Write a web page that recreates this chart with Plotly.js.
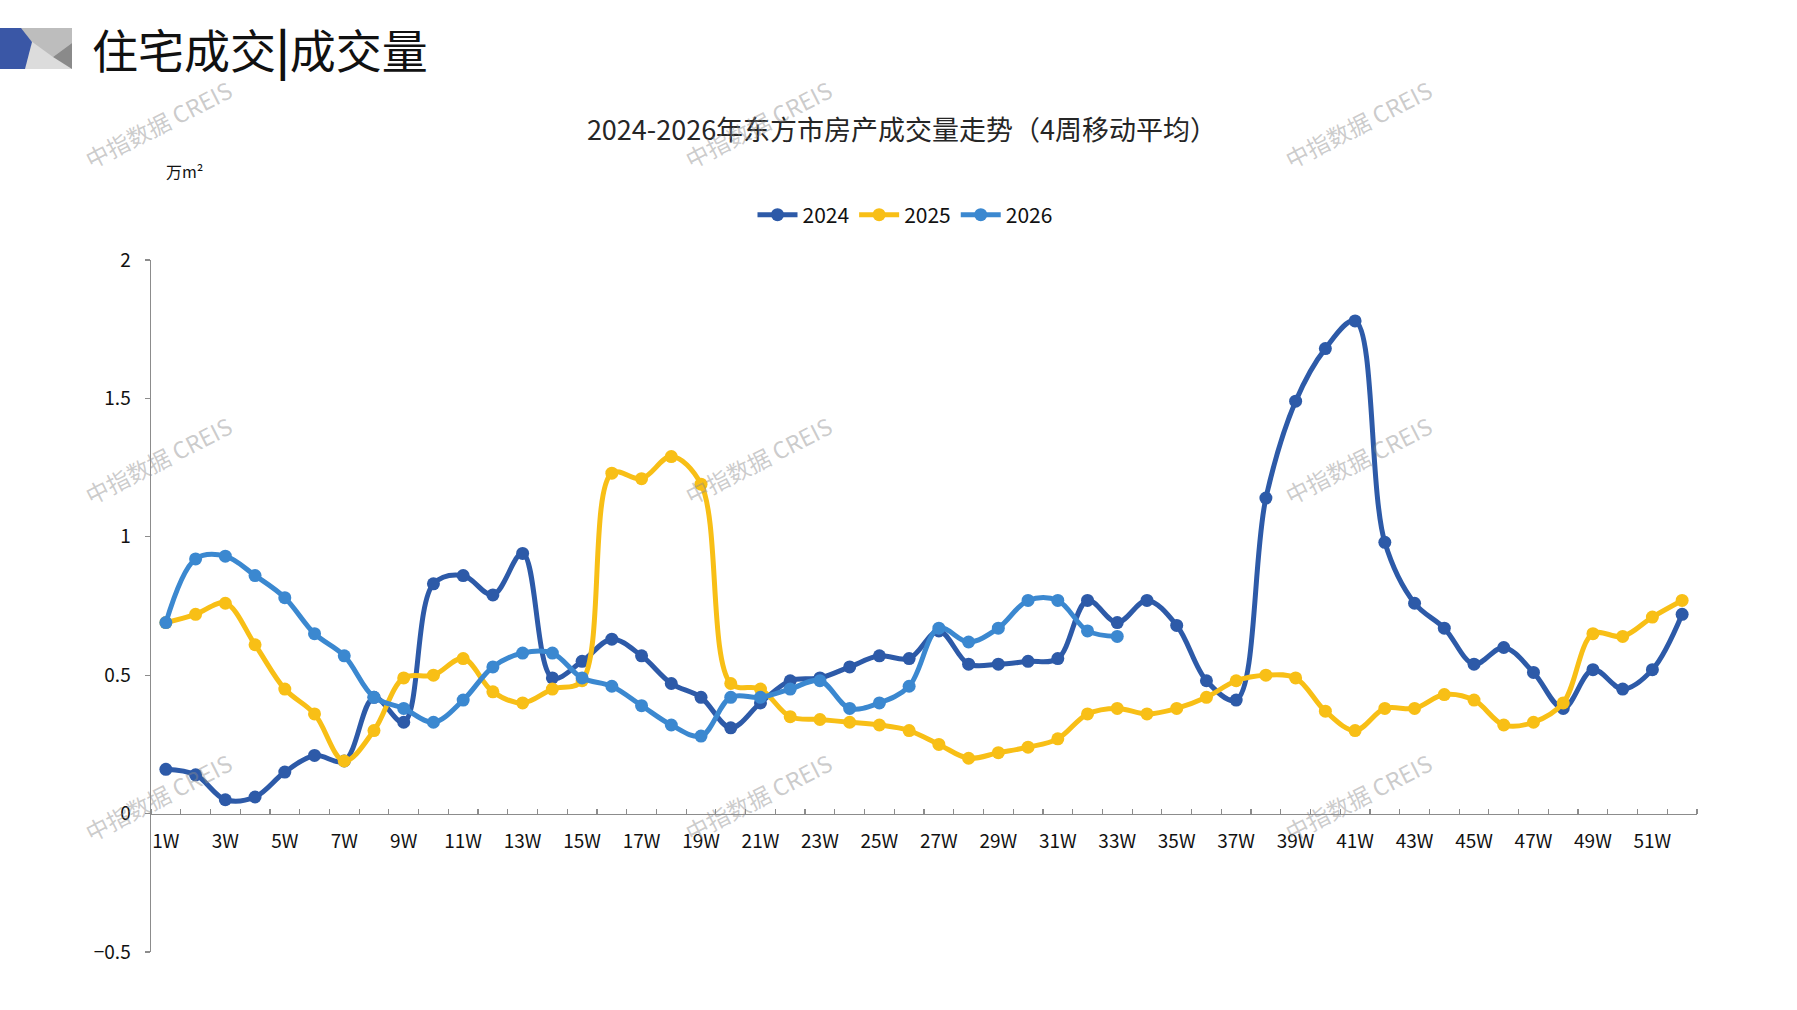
<!DOCTYPE html>
<html>
<head>
<meta charset="utf-8">
<script src="https://cdn.plot.ly/plotly-3.0.1.min.js"></script>
<style>
  html, body { margin: 0; padding: 0; background: #fff; }
  #chart { width: 1797px; height: 1010px; }
</style>
</head>
<body>
<div id="chart"></div>
<script>
// week categories and 4-week moving average, 万m²
var weekLabels = ['1W','2W','3W','4W','5W','6W','7W','8W','9W','10W','11W','12W','13W',
  '14W','15W','16W','17W','18W','19W','20W','21W','22W','23W','24W','25W','26W',
  '27W','28W','29W','30W','31W','32W','33W','34W','35W','36W','37W','38W','39W',
  '40W','41W','42W','43W','44W','45W','46W','47W','48W','49W','50W','51W','52W'];

var v2024 = [0.16,0.14,0.05,0.06,0.15,0.21,0.19,0.42,0.33,0.83,0.86,0.79,0.94,
  0.49,0.55,0.63,0.57,0.47,0.42,0.31,0.40,0.48,0.49,0.53,0.57,0.56,
  0.66,0.54,0.54,0.55,0.56,0.77,0.69,0.77,0.68,0.48,0.41,1.14,1.49,
  1.68,1.78,0.98,0.76,0.67,0.54,0.60,0.51,0.38,0.52,0.45,0.52,0.72];

var v2025 = [0.69,0.72,0.76,0.61,0.45,0.36,0.19,0.30,0.49,0.50,0.56,0.44,0.40,
  0.45,0.48,1.23,1.21,1.29,1.19,0.47,0.45,0.35,0.34,0.33,0.32,0.30,
  0.25,0.20,0.22,0.24,0.27,0.36,0.38,0.36,0.38,0.42,0.48,0.50,0.49,
  0.37,0.30,0.38,0.38,0.43,0.41,0.32,0.33,0.40,0.65,0.64,0.71,0.77];

var v2026 = [0.69,0.92,0.93,0.86,0.78,0.65,0.57,0.42,0.38,0.33,0.41,0.53,0.58,
  0.58,0.49,0.46,0.39,0.32,0.28,0.42,0.42,0.45,0.48,0.38,0.40,0.46,
  0.67,0.62,0.67,0.77,0.77,0.66,0.64];

var seriesNames = ['2024', '2025', '2026'];
var seriesColors = ['#2d5aa8', '#f8bf16', '#3b88d0'];

// plot area in page pixels
var W = 1797, H = 1010;
var L = 151, R = 1697, T = 260, B = 952;
function px(x) { return (x - L) / (R - L); }
function py(y) { return 1 - (y - T) / (B - T); }
function pathOf(pts) {
  return pts.map(function (p, i) {
    return (i ? 'L' : 'M') + px(p[0]).toFixed(5) + ',' + py(p[1]).toFixed(5);
  }).join(' ') + ' Z';
}

var weekNums = weekLabels.map(function (_, i) { return i + 1; });
var tickNums = weekNums.filter(function (n) { return n % 2 === 1; });
var tickText = tickNums.map(function (n) { return weekLabels[n - 1]; });

var data = [v2024, v2025, v2026].map(function (vals, k) {
  return {
    type: 'scatter',
    mode: 'lines+markers',
    name: seriesNames[k],
    x: weekNums.slice(0, vals.length),
    y: vals,
    line: { color: seriesColors[k], width: 5, shape: 'spline', smoothing: 1 },
    marker: { color: seriesColors[k], size: 13 }
  };
});

var annotations = [
  { text: '住宅成交<b>|</b>成交量', x: px(90), y: py(48), xanchor: 'left', yanchor: 'middle',
    font: { size: 46, color: '#111' } },
  { text: '万m²', x: px(164), y: py(171), xanchor: 'left', yanchor: 'middle',
    font: { size: 16, color: '#111' } }
];
[158, 758, 1358].forEach(function (cx) {
  [124, 460, 797].forEach(function (cy) {
    annotations.push({
      text: '中指数据 CREIS', x: px(cx), y: py(cy), xanchor: 'center', yanchor: 'middle',
      textangle: -27, font: { size: 23, color: 'rgba(140,140,140,0.45)', family: 'Noto Sans CJK SC' }
    });
  });
});
annotations.forEach(function (a) { a.xref = 'paper'; a.yref = 'paper'; a.showarrow = false; });

var shapes = [
  { path: pathOf([[0,28],[72,28],[72,69],[0,69]]), fillcolor: '#dcdcdc' },
  { path: pathOf([[20,28],[72,28],[72,43],[53,57],[31,41]]), fillcolor: '#bdbdbd' },
  { path: pathOf([[72,43],[72,69],[53,57]]), fillcolor: '#8a8a8a' },
  { path: pathOf([[0,28],[21,28],[32,42],[25,69],[0,69]]), fillcolor: '#3a57a6' }
];
shapes.forEach(function (s) { s.type = 'path'; s.xref = 'paper'; s.yref = 'paper'; s.line = { width: 0 }; });

var layout = {
  width: W, height: H,
  margin: { l: L, r: W - R, t: T, b: H - B, pad: 0 },
  paper_bgcolor: '#fff', plot_bgcolor: '#fff',
  font: { family: '"Noto Sans CJK SC", "Noto Sans", sans-serif', color: '#111' },
  title: {
    text: '2024-2026年东方市房产成交量走势（4周移动平均）',
    x: 902 / W, xref: 'container', xanchor: 'center',
    y: 1 - 131 / H, yref: 'container', yanchor: 'middle',
    font: { size: 27, color: '#262626' }
  },
  showlegend: true,
  legend: {
    orientation: 'h', x: px(905), y: py(215), xanchor: 'center', yanchor: 'middle',
    font: { size: 21, color: '#111' }, itemwidth: 40, tracegroupgap: 0
  },
  xaxis: {
    range: [0.5, 52.5], anchor: 'free', position: 0.2,
    showline: true, linecolor: '#8c8c8c', linewidth: 1.5,
    showgrid: false, zeroline: false,
    tickmode: 'array', tickvals: tickNums, ticktext: tickText,
    ticks: '', ticklabelstandoff: 10,
    tickfont: { size: 19, color: '#111' },
    minor: { ticks: 'inside', ticklen: 5, tickcolor: '#8c8c8c', tickwidth: 1.2,
      tick0: 0.5, dtick: 1, showgrid: false }
  },
  yaxis: {
    range: [-0.5, 2], dtick: 0.5, tick0: 0,
    showline: true, linecolor: '#8c8c8c', linewidth: 1.5,
    showgrid: false, zeroline: false,
    ticks: 'outside', ticklen: 5, tickcolor: '#8c8c8c', tickwidth: 1.2,
    ticklabelstandoff: 10,
    tickfont: { size: 19, color: '#111' }
  },
  annotations: annotations,
  shapes: shapes
};

Plotly.newPlot('chart', data, layout, { displayModeBar: false, staticPlot: true });
</script>
</body>
</html>
